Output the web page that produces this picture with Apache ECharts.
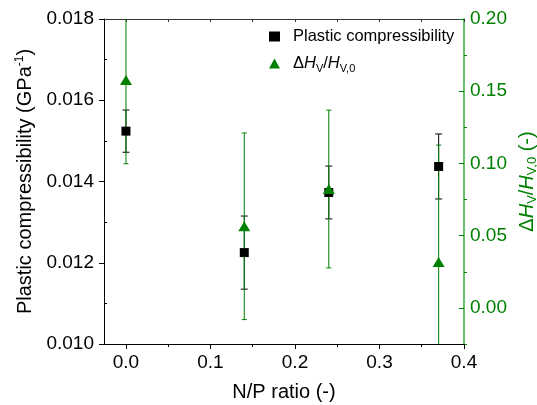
<!DOCTYPE html>
<html>
<head>
<meta charset="utf-8">
<script src="https://cdn.jsdelivr.net/npm/echarts@6/dist/echarts.min.js"></script>
<style>
  html, body { margin: 0; padding: 0; background: #fff; }
  #chart { width: 537px; height: 405px; }
</style>
</head>
<body>
<div id="chart"></div>
<script>
// N/P ratio on x
const npRatio = [0, 0.14, 0.24, 0.37];
// plastic compressibility (left axis)
const compress = [0.01524, 0.01225, 0.01373, 0.01437];
const compressErr = [0.00052, 0.0009, 0.00065, 0.0008];
// dHv / Hv,0 (right axis)
const dHv = [0.1578, 0.0565, 0.0823, 0.0317];
const dHvErr = [0.058, 0.0646, 0.0546, 0.081];

const xTicks = [0, 0.1, 0.2, 0.3, 0.4];
const xMinor = [0.05, 0.15, 0.25, 0.35];
const leftTicks = [0.010, 0.012, 0.014, 0.016, 0.018];
const leftMinor = [0.011, 0.013, 0.015, 0.017];
const rightTicks = [0, 0.05, 0.1, 0.15, 0.2];
const rightMinor = [-0.025, 0.025, 0.075, 0.125, 0.175];

const font = 'Liberation Sans, Arial, sans-serif';
const green = '#008000';

const errData = (vals, errs) => npRatio.map((x, i) => [x, vals[i] - errs[i], vals[i] + errs[i]]);

const errorBar = function (color, capW) {
  return function (params, api) {
    const cs = params.coordSys;
    const x = api.value(0);
    let top = api.coord([x, api.value(2)]);
    let bot = api.coord([x, api.value(1)]);
    const yMin = cs.y, yMax = cs.y + cs.height;
    const children = [];
    const style = { stroke: color, lineWidth: 1 };
    const t = Math.max(top[1], yMin), b = Math.min(bot[1], yMax);
    children.push({ type: 'line', shape: { x1: top[0], y1: t, x2: top[0], y2: b }, style });
    if (top[1] >= yMin) children.push({ type: 'line', shape: { x1: top[0] - capW, y1: top[1], x2: top[0] + capW, y2: top[1] }, style });
    if (bot[1] <= yMax) children.push({ type: 'line', shape: { x1: bot[0] - capW, y1: bot[1], x2: bot[0] + capW, y2: bot[1] }, style });
    return { type: 'group', children };
  };
};

const chart = echarts.init(document.getElementById('chart'));

const option = {
  animation: false,
  textStyle: { fontFamily: font },
  grid: { left: 104, right: 73, top: 19, bottom: 61, containLabel: false, outerBoundsMode: 'none' },
  legend: {
    orient: 'vertical',
    left: 264,
    top: 23,
    itemWidth: 11,
    itemHeight: 10,
    itemGap: 10,
    textStyle: {
      fontFamily: font, fontSize: 16.5, color: '#000', padding: [0, 0, 0, 8],
      rich: {
        i: { fontFamily: font, fontSize: 16.5, fontStyle: 'italic', color: '#000' },
        s: { fontFamily: font, fontSize: 11, color: '#000', padding: [10, 0, 0, 0] }
      }
    },
    data: [
      { name: 'Plastic compressibility', icon: 'rect', itemStyle: { color: '#000', opacity: 1 } },
      { name: 'dHv', icon: 'triangle', itemStyle: { color: green, opacity: 1 } }
    ],
    formatter: function (name) {
      if (name === 'dHv') return 'Δ{i|H}{s|V}/{i|H}{s|V,0}';
      return name;
    }
  },
  xAxis: [
    {
      type: 'value', position: 'bottom', min: -0.026, max: 0.4,
      name: 'N/P ratio (-)', nameLocation: 'middle', nameGap: 38,
      nameTextStyle: { fontFamily: font, fontSize: 20, color: '#000' },
      axisLine: { show: true, onZero: false, lineStyle: { color: '#000', width: 1 } },
      axisTick: { show: true, length: 5, customValues: xTicks, lineStyle: { color: '#000' } },
      axisLabel: { fontFamily: font, fontSize: 19, color: '#000', margin: 9, customValues: xTicks,
        formatter: v => v.toFixed(1) },
      splitLine: { show: false }
    },
    {
      type: 'value', position: 'bottom', min: -0.026, max: 0.4,
      axisLine: { show: false, onZero: false },
      axisTick: { show: true, length: 3, customValues: xMinor, lineStyle: { color: '#000' } },
      axisLabel: { show: false, customValues: xMinor },
      splitLine: { show: false }
    },
    {
      type: 'value', position: 'top', min: -0.026, max: 0.4,
      axisLine: { show: true, onZero: false, lineStyle: { color: '#333', width: 1 } },
      axisTick: { show: true, inside: true, length: 3, customValues: xTicks.concat(xMinor), lineStyle: { color: '#333' } },
      axisLabel: { show: false, customValues: xTicks },
      splitLine: { show: false }
    }
  ],
  yAxis: [
    {
      type: 'value', position: 'left', min: 0.010, max: 0.018,
      name: 'Plastic compressibility (GPa{sup|-1})', nameLocation: 'middle', nameGap: 68,
      nameTextStyle: { fontFamily: font, fontSize: 20, color: '#000',
        rich: { sup: { fontFamily: font, fontSize: 12, color: '#000', padding: [0, 0, 10, 0] } } },
      axisLine: { show: true, onZero: false, lineStyle: { color: '#000', width: 1 } },
      axisTick: { show: true, length: 5, customValues: leftTicks, lineStyle: { color: '#000' } },
      axisLabel: { fontFamily: font, fontSize: 19, color: '#000', margin: 10, customValues: leftTicks,
        formatter: v => v.toFixed(3) },
      splitLine: { show: false }
    },
    {
      type: 'value', position: 'left', min: 0.010, max: 0.018,
      axisLine: { show: false, onZero: false },
      axisTick: { show: true, inside: true, length: 3, customValues: leftMinor, lineStyle: { color: '#000' } },
      axisLabel: { show: false, customValues: leftMinor },
      splitLine: { show: false }
    },
    {
      type: 'value', position: 'right', min: -0.025, max: 0.20,
      name: 'Δ{i|H}{s|V}/{i|H}{s|V,0} (-)', nameLocation: 'middle', nameGap: 52,
      nameTextStyle: { fontFamily: font, fontSize: 20, color: green,
        rich: {
          i: { fontFamily: font, fontSize: 20, fontStyle: 'italic', color: green },
          s: { fontFamily: font, fontSize: 13, color: green, padding: [10, 0, 0, 0] }
        } },
      axisLine: { show: true, onZero: false, lineStyle: { color: '#6cbf6c', width: 2 } },
      axisTick: { show: true, inside: true, length: 5, customValues: rightTicks, lineStyle: { color: green } },
      axisLabel: { fontFamily: font, fontSize: 19, color: green, margin: 6, customValues: rightTicks,
        formatter: v => v.toFixed(2) },
      splitLine: { show: false }
    },
    {
      type: 'value', position: 'right', min: -0.025, max: 0.20,
      axisLine: { show: false, onZero: false },
      axisTick: { show: true, length: 3, customValues: rightMinor, lineStyle: { color: green } },
      axisLabel: { show: false, customValues: rightMinor },
      splitLine: { show: false }
    }
  ],
  series: [
    {
      type: 'custom', name: 'compressErr', xAxisIndex: 0, yAxisIndex: 0,
      renderItem: errorBar('#000', 3.5), data: errData(compress, compressErr),
      encode: { x: 0, y: [1, 2] }, z: 2
    },
    {
      type: 'custom', name: 'dHvErr', xAxisIndex: 0, yAxisIndex: 2,
      renderItem: errorBar(green, 2.5), data: errData(dHv, dHvErr),
      encode: { x: 0, y: [1, 2] }, z: 3
    },
    {
      type: 'scatter', name: 'Plastic compressibility', xAxisIndex: 0, yAxisIndex: 0,
      symbol: 'rect', symbolSize: 9, itemStyle: { color: '#000', opacity: 1 },
      data: npRatio.map((x, i) => [x, compress[i]]), z: 4
    },
    {
      type: 'scatter', name: 'dHv', xAxisIndex: 0, yAxisIndex: 2,
      symbol: 'triangle', symbolSize: [12, 10], itemStyle: { color: green, opacity: 1 },
      data: npRatio.map((x, i) => [x, dHv[i]]), z: 5
    }
  ]
};

chart.setOption(option);
</script>
</body>
</html>
